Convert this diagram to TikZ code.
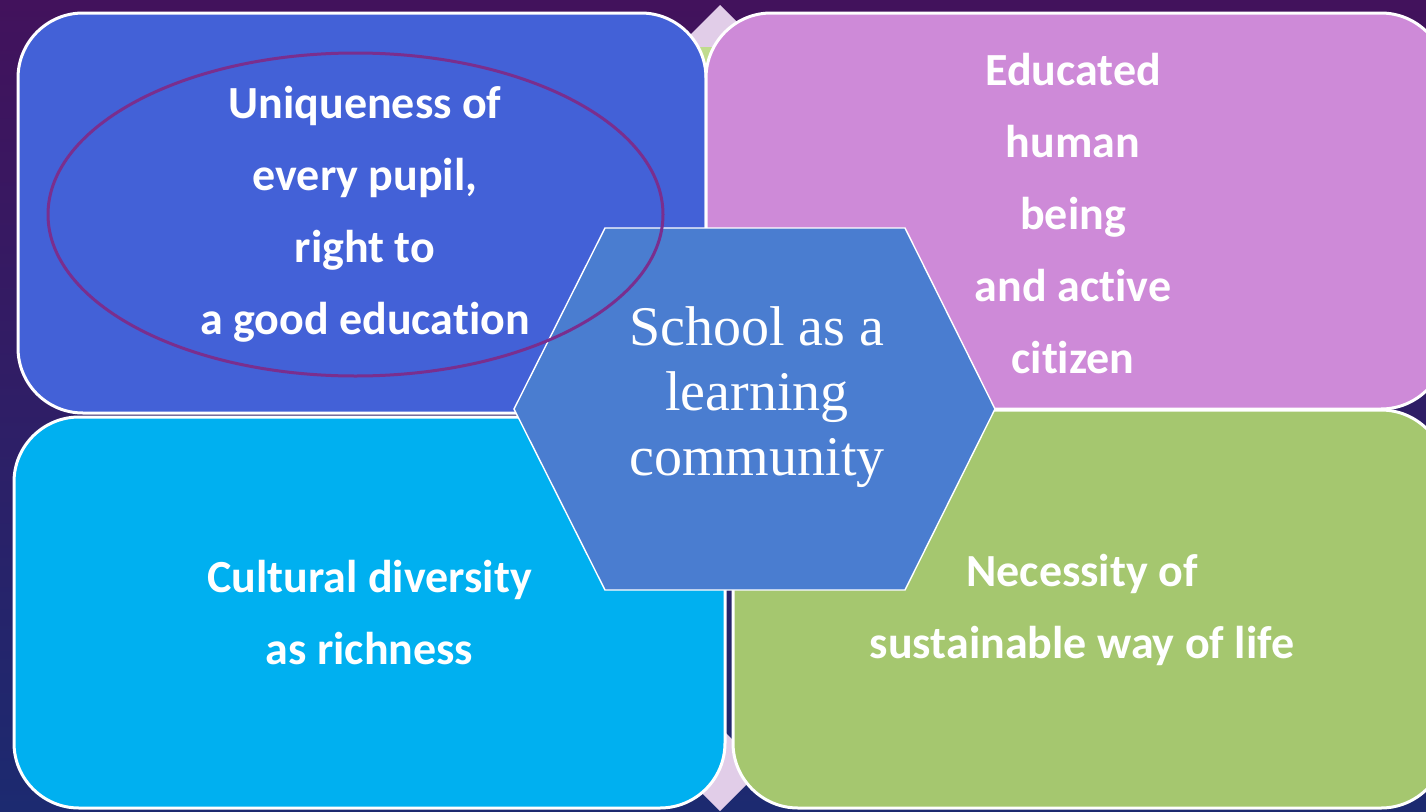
\documentclass[tikz,border=0pt]{standalone}
\usepackage{fontspec}
\setmainfont{Liberation Serif}
\newfontfamily\tilefont[Ligatures=NoCommon]{Carlito}
\usetikzlibrary{shapes.geometric}

\definecolor{bgtop}{RGB}{66,18,92}
\definecolor{bgbot}{RGB}{28,42,112}
\definecolor{tileblue}{RGB}{67,97,215}
\definecolor{tilepink}{RGB}{206,138,216}
\definecolor{tilecyan}{RGB}{0,176,240}
\definecolor{tilegreen}{RGB}{165,199,111}
\definecolor{hexblue}{RGB}{74,125,208}
\definecolor{ovalpurple}{RGB}{122,46,142}
\definecolor{lilac}{RGB}{225,205,232}
\definecolor{leaf}{RGB}{192,220,142}

\begin{document}
\begin{tikzpicture}[x=1pt, y=-1pt]

\tikzset{
  tile/.style={
    draw=white,
    line width=3pt,
    rectangle,
    rounded corners=65pt,
    align=center,
    inner sep=0pt,
    text=white,
    font=\tilefont\bfseries\fontsize{46}{72}\selectfont
  },
  hexa/.style={
    draw=white,
    line width=1.4pt,
    fill=hexblue
  },
  core/.style={
    align=center,
    inner sep=0pt,
    text=white,
    font=\fontsize{56}{65}\selectfont
  },
  oval/.style={
    draw=ovalpurple,
    line width=3pt,
    ellipse,
    inner sep=0pt
  }
}

% page and backdrop
\useasboundingbox (0,0) rectangle (1426,811);
\shade[top color=bgtop, bottom color=bgbot] (0,0) rectangle (1426,811);

% small diamonds peeking out between the tiles
\fill[lilac] (720,5) -- (762,47) -- (720,89) -- (678,47) -- cycle;
\fill[leaf] (678,47) -- (762,47) -- (720,89) -- cycle;
\fill[lilac] (720,811) -- (762,769) -- (720,727) -- (678,769) -- cycle;

% the four tiles
\node[tile, fill=tileblue, minimum width=688pt, minimum height=400pt]
  (unique) at (362,213) {};
\node[tile, draw=none] (unique-txt) at (365,214) {Uniqueness of\\every pupil,\\right to\\a good education};

\node[tile, fill=tilepink, minimum width=740pt, minimum height=396pt]
  (citizen) at (1076,211) {};
\node[tile, draw=none] (citizen-txt) at (1073,214) {Educated\\human\\being\\and active\\citizen};

\node[tile, fill=tilecyan, minimum width=711pt, minimum height=391pt]
  (culture) at (369.5,612.5) {Cultural diversity\\as richness};

\node[tile, fill=tilegreen, minimum width=713pt, minimum height=398pt]
  (life) at (1089.5,609) {};
\node[tile, draw=none] (life-txt) at (1082,610) {Necessity of\\sustainable way of life};

% hexagon in the middle
\draw[hexa] (605,228) -- (905,228) -- (995,409) -- (905,590)
  -- (605,590) -- (514,409) -- cycle;
\node[core] (school) at (757,397) {School as a\\learning\\community};

% ring round the first tile's text
\node[oval, minimum width=615pt, minimum height=323pt] (ring) at (355.5,214.5) {};

\end{tikzpicture}
\end{document}
